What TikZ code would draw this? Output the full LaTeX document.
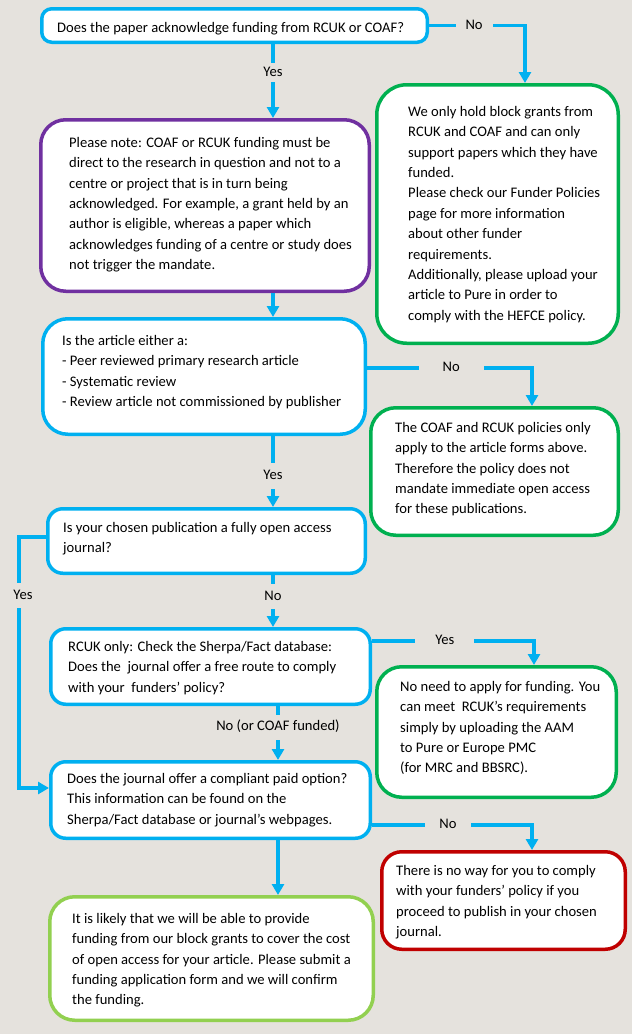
\documentclass[tikz,border=0pt]{standalone}
\usepackage{fontspec}
\setmainfont{Carlito}
\usetikzlibrary{arrows.meta}
\definecolor{bg}{RGB}{229,226,221}
\definecolor{cblue}{HTML}{00B0F0}
\definecolor{cpurple}{HTML}{7030A0}
\definecolor{cgreen}{HTML}{00B050}
\definecolor{cred}{HTML}{C00000}
\definecolor{clime}{HTML}{92D050}
\newcommand{\fcfont}{\fontsize{14.6pt}{20.4pt}\selectfont}
\begin{document}
\begin{tikzpicture}[x=1pt,y=-1pt,
  box/.style={draw, fill=white, line width=3.5pt, rectangle, inner sep=0pt},
  txt/.style={anchor=north west, inner sep=0pt, align=left, yshift=14.28pt, font=\fcfont, text=black},
  conn/.style={draw=cblue, line width=3.3pt, -{Triangle[width=12pt,length=11pt]}},
  lbl/.style={fill=bg, font=\fcfont, text=black, inner xsep=8pt, inner ysep=6pt, text height=10pt, text depth=3pt}]

\fill[bg] (0,0) rectangle (632,1034);
\useasboundingbox (0,0) rectangle (632,1034);

% boxes
\node[box, draw=cblue, minimum width=385.5pt, minimum height=33.5pt, rounded corners=10pt] (A) at (234.5,25.5) {};
\node[box, draw=cpurple, minimum width=328.5pt, minimum height=171.5pt, rounded corners=25pt] (B) at (205,205.5) {};
\node[box, draw=cgreen, minimum width=241.5pt, minimum height=258.5pt, rounded corners=30pt] (C) at (497.5,214) {};
\node[box, draw=cblue, minimum width=322.5pt, minimum height=115.5pt, rounded corners=25pt] (D) at (204,376.5) {};
\node[box, draw=cgreen, minimum width=247.5pt, minimum height=127.5pt, rounded corners=25pt] (E) at (494.5,471.5) {};
\node[box, draw=cblue, minimum width=317.5pt, minimum height=64.5pt, rounded corners=15pt] (F) at (206.5,541) {};
\node[box, draw=cblue, minimum width=319.5pt, minimum height=75.5pt, rounded corners=15pt] (G) at (210.5,666.5) {};
\node[box, draw=cgreen, minimum width=239.5pt, minimum height=130.5pt, rounded corners=25pt] (I) at (496.5,732) {};
\node[box, draw=cblue, minimum width=319.5pt, minimum height=76.5pt, rounded corners=15pt] (H) at (210.5,800) {};
\node[box, draw=cred, minimum width=243.5pt, minimum height=97.5pt, rounded corners=20pt] (J) at (503.5,900.5) {};
\node[box, draw=clime, minimum width=323.5pt, minimum height=123.5pt, rounded corners=25pt] (K) at (211.5,958.5) {};

% texts
\node[txt] (At) at (57,32) {\strut Does the paper acknowledge funding from RCUK or COAF?};
\node[txt] (Bt) at (69,147) {\strut Please note: COAF or RCUK funding must be\\
direct to the research in question and not to a\\
centre or project that is in turn being\\
acknowledged. For example, a grant held by an\\
author is eligible, whereas a paper which\\
acknowledges funding of a centre or study does\\
not trigger the mandate.};
\node[txt] (Ct) at (408,116) {\strut We only hold block grants from\\
RCUK and COAF and can only\\
support papers which they have\\
funded.\\
Please check our Funder Policies\\
page for more information\\
about other funder\\
requirements.\\
Additionally, please upload your\\
article to Pure in order to\\
comply with the HEFCE policy.};
\node[txt] (Dt) at (62,345) {\strut Is the article either a:\\
- Peer reviewed primary research article\\
- Systematic review\\
- Review article not commissioned by publisher};
\node[txt] (Et) at (395,432) {\strut The COAF and RCUK policies only\\
apply to the article forms above.\\
Therefore the policy does not\\
mandate immediate open access\\
for these publications.};
\node[txt] (Ft) at (63,532) {\strut Is your chosen publication a fully open access\\
journal?};
\node[txt] (Gt) at (68,651) {\strut RCUK only: Check the Sherpa/Fact database:\\
Does the \ journal offer a free route to comply\\
with your \ funders’ policy?};
\node[txt] (It) at (400,691) {\strut No need to apply for funding. You\\
can meet \ RCUK’s requirements\\
simply by uploading the AAM\\
to Pure or Europe PMC\\
(for MRC and BBSRC).};
\node[txt] (Ht) at (67,783) {\strut Does the journal offer a compliant paid option?\\
This information can be found on the\\
Sherpa/Fact database or journal’s webpages.};
\node[txt] (Jt) at (396,875) {\strut There is no way for you to comply\\
with your funders’ policy if you\\
proceed to publish in your chosen\\
journal.};
\node[txt] (Kt) at (72,923) {\strut It is likely that we will be able to provide\\
funding from our block grants to cover the cost\\
of open access for your article. Please submit a\\
funding application form and we will confirm\\
the funding.};

% helper coordinates
\coordinate (xa) at (273,0);
\coordinate (xb) at (278,0);
\coordinate (xc) at (525,0);
\coordinate (xe) at (532,0);
\coordinate (xi) at (534,0);
\coordinate (xl) at (19,0);
\coordinate (yde) at (0,368);
\coordinate (ygi) at (0,641);
\coordinate (yhj) at (0,825);
\coordinate (yfl) at (0,537);
\coordinate (yhl) at (0,788);

% connectors
\draw[conn] (xa |- A.south) -- node[lbl, pos=0.39, inner ysep=3pt] {Yes} (xa |- B.north);
\draw[conn] (A.east) -- node[lbl, pos=0.47, inner xsep=10pt] {No} (xc |- A.east) -- (xc |- C.north);
\draw[conn] (xa |- B.south) -- (xa |- D.north);
\draw[conn] (D.east |- yde) -- node[lbl, pos=0.51, inner xsep=24pt] {No} (xe |- yde) -- (xe |- E.north);
\draw[conn] (xa |- D.south) -- node[lbl, pos=0.56, inner ysep=6.5pt] {Yes} (xa |- F.north);
\draw[conn] (xa |- F.south) -- node[lbl, pos=0.42] {No} (xa |- G.north);
\draw[conn] (F.west |- yfl) -- (xl |- yfl) -- node[lbl, pos=0.235, xshift=4pt, inner xsep=6pt] {Yes} (xl |- yhl) -- (H.west |- yhl);
\draw[conn] (G.east |- ygi) -- node[lbl, pos=0.45, inner xsep=20pt] {Yes} (xi |- ygi) -- (xi |- I.north);
\draw[conn] (xb |- G.south) -- node[lbl, pos=0.39, inner xsep=4pt] {No (or COAF funded)} (xb |- H.north);
\draw[conn] (H.east |- yhj) -- node[lbl, pos=0.475, inner xsep=14pt] {No} (xe |- yhj) -- (xe |- J.north);
\draw[conn] (xb |- H.south) -- (xb |- K.north);
\end{tikzpicture}
\end{document}
